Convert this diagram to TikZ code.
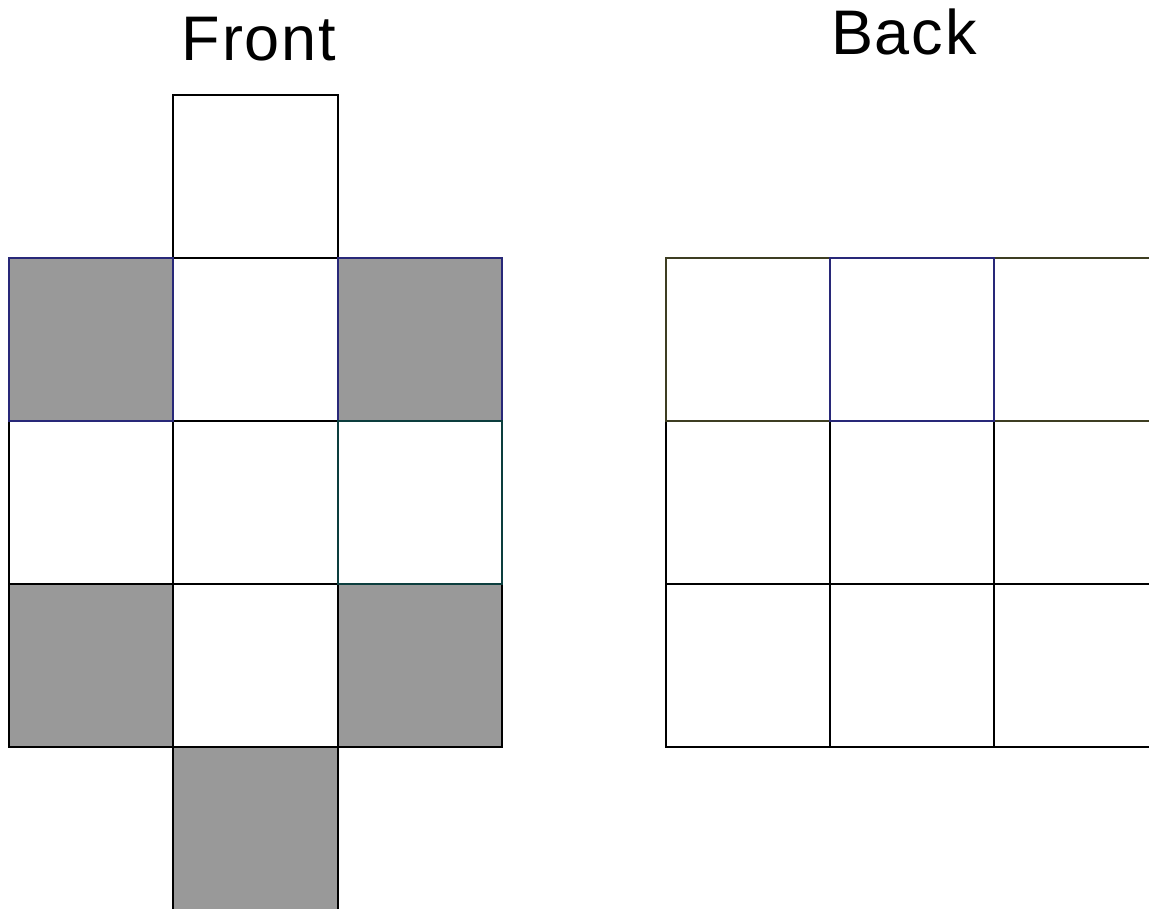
\documentclass[tikz,border=0pt]{standalone}
\usepackage{fontspec}
\setmainfont{Liberation Sans}
\newfontfamily\titlefont[LetterSpace=3]{Liberation Sans}
\usepackage{tikz}
\definecolor{cellgray}{HTML}{999999}
\definecolor{edgeblue}{RGB}{40,40,120}
\definecolor{edgeteal}{RGB}{12,62,62}
\definecolor{edgeolive}{RGB}{62,62,34}

\begin{document}
\begin{tikzpicture}[
  x=1pt, y=-1pt,
  cell/.style={draw, line width=2pt, inner sep=0pt, minimum width=164.5pt, minimum height=163pt},
  shaded/.style={cell, fill=cellgray},
  title/.style={font=\titlefont\fontsize{63}{70}\selectfont, anchor=base}
]
\useasboundingbox (0,0) rectangle (1149,909);
% titles
\node[title] (front) at (259,61) {Front};
\node[title] (back) at (904,55) {Back};
% front side
\node[cell] (ftop) at (255.5,176.5) {};
\node[cell] (f11) at (255.5,339.5) {};
\node[cell] (f20) at (91,502.5) {};
\node[cell] (f21) at (255.5,502.5) {};
\node[shaded] (f30) at (91,665.5) {};
\node[cell] (f31) at (255.5,665.5) {};
\node[shaded] (f32) at (420,665.5) {};
\node[shaded] (fbot) at (255.5,828.5) {};
\node[shaded, draw=edgeblue] (f10) at (91,339.5) {};
\node[shaded, draw=edgeblue] (f12) at (420,339.5) {};
\node[cell, draw=edgeteal] (f22) at (420,502.5) {};
% back side
\foreach \c/\x in {0/748,1/912,2/1076}
  \foreach \r/\y in {1/502.5,2/665.5}
    \node[cell] (b\r\c) at (\x,\y) {};
\node[cell, draw=edgeolive] (b00) at (748,339.5) {};
\node[cell, draw=edgeolive] (b02) at (1076,339.5) {};
\node[cell, draw=edgeblue] (b01) at (912,339.5) {};
\end{tikzpicture}
\end{document}
